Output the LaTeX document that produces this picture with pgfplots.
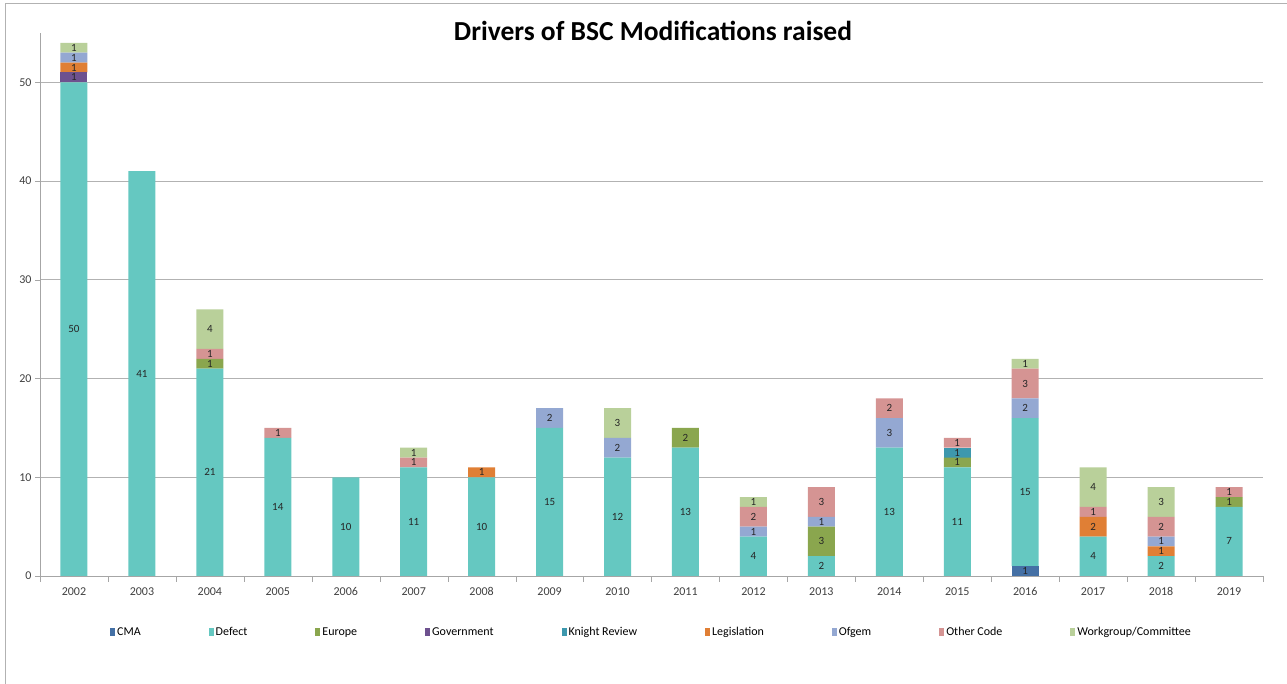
\documentclass[border=0pt]{standalone}
\usepackage{pgfplots}
\usepackage{pgfplotstable}
\pgfplotsset{compat=1.18}
\usepackage{fontspec}
\setmainfont{Carlito}

\definecolor{cCMA}{HTML}{4470A5}
\definecolor{cDefect}{HTML}{65C8C1}
\definecolor{cEurope}{HTML}{8AA64E}
\definecolor{cGov}{HTML}{6E518F}
\definecolor{cKnight}{HTML}{3D98AE}
\definecolor{cLeg}{HTML}{E07F35}
\definecolor{cOfgem}{HTML}{94A8D2}
\definecolor{cOther}{HTML}{D59493}
\definecolor{cWork}{HTML}{B9D09A}
\definecolor{txt}{HTML}{404040}

% year index, then counts per driver
\pgfplotstableread{
x  CMA Defect Europe Gov Knight Leg Ofgem Other Work
0  0   50     0      1   0      1   1     0     1
1  0   41     0      0   0      0   0     0     0
2  0   21     1      0   0      0   0     1     4
3  0   14     0      0   0      0   0     1     0
4  0   10     0      0   0      0   0     0     0
5  0   11     0      0   0      0   0     1     1
6  0   10     0      0   0      1   0     0     0
7  0   15     0      0   0      0   2     0     0
8  0   12     0      0   0      0   2     0     3
9  0   13     2      0   0      0   0     0     0
10 0   4      0      0   0      0   1     2     1
11 0   2      3      0   0      0   1     3     0
12 0   13     0      0   0      0   3     2     0
13 0   11     1      0   1      0   0     1     0
14 1   15     0      0   0      0   2     3     1
15 0   4      0      0   0      2   0     1     4
16 0   2      0      0   0      1   1     2     3
17 0   7      1      0   0      0   0     1     0
}\drivers

\begin{document}
\begin{tikzpicture}[x=1pt,y=1pt]
\useasboundingbox (0,0) rectangle (1287,684);
\draw[gray!60, line width=0.8pt] (5.5,0) -- (5.5,680.5) -- (1287,680.5);
\node[font=\fontsize{27.5}{27.5}\selectfont\bfseries] at (653,653) {Drivers of BSC Modifications raised};
\begin{axis}[
    at={(40pt,108pt)}, anchor=south west,
    scale only axis, width=1223pt, height=543pt,
    ybar stacked, bar width=27pt,
    xmin=-0.5, xmax=17.5, ymin=0, ymax=55,
    axis x line=bottom, axis y line=left,
    axis line style={gray!70, -},
    xtick={0,...,17},
    xticklabels={2002,2003,2004,2005,2006,2007,2008,2009,2010,2011,2012,2013,2014,2015,2016,2017,2018,2019},
    major x tick style={draw=none},
    minor xtick={-0.5,0.5,...,17.5},
    minor tick length=6pt,
    minor x tick style={gray!70},
    xtick align=outside,
    ytick={0,10,...,50},
    ytick align=outside, major tick length=5pt,
    ytick style={gray!70},
    ymajorgrids, grid style={gray!60, line width=0.7pt},
    tick label style={font=\fontsize{12}{12}\selectfont, text=txt},
    xticklabel style={yshift=-3pt},
    /pgf/number format/assume math mode=true,
    nodes near coords={\pgfmathfloatifflags{\pgfplotspointmeta}{0}{}{\pgfmathprintnumber{\pgfplotspointmeta}}},
    every node near coord/.append style={font=\fontsize{11}{11}\selectfont, text=black!85, anchor=center},
    every axis plot post/.append style={draw=none,
        legend image code/.code={\fill[##1] (0pt,-4pt) rectangle (5pt,4pt);}},
    legend columns=9,
    legend style={at={(0.5,-0.103)}, anchor=center, draw=none,
        font=\fontsize{12}{12}\selectfont,
        /tikz/every even column/.append style={column sep=66pt},
        /tikz/every odd column/.append style={column sep=0pt},
        legend cell align=left},
]
\addplot[fill=cCMA] table[x=x,y=CMA] {\drivers};
\addplot[fill=cDefect] table[x=x,y=Defect] {\drivers};
\addplot[fill=cEurope] table[x=x,y=Europe] {\drivers};
\addplot[fill=cGov] table[x=x,y=Gov] {\drivers};
\addplot[fill=cKnight] table[x=x,y=Knight] {\drivers};
\addplot[fill=cLeg] table[x=x,y=Leg] {\drivers};
\addplot[fill=cOfgem] table[x=x,y=Ofgem] {\drivers};
\addplot[fill=cOther] table[x=x,y=Other] {\drivers};
\addplot[fill=cWork] table[x=x,y=Work] {\drivers};
\legend{CMA,Defect,Europe,Government,Knight Review,Legislation,Ofgem,Other Code,Workgroup/Committee}
\end{axis}
\end{tikzpicture}
\end{document}
